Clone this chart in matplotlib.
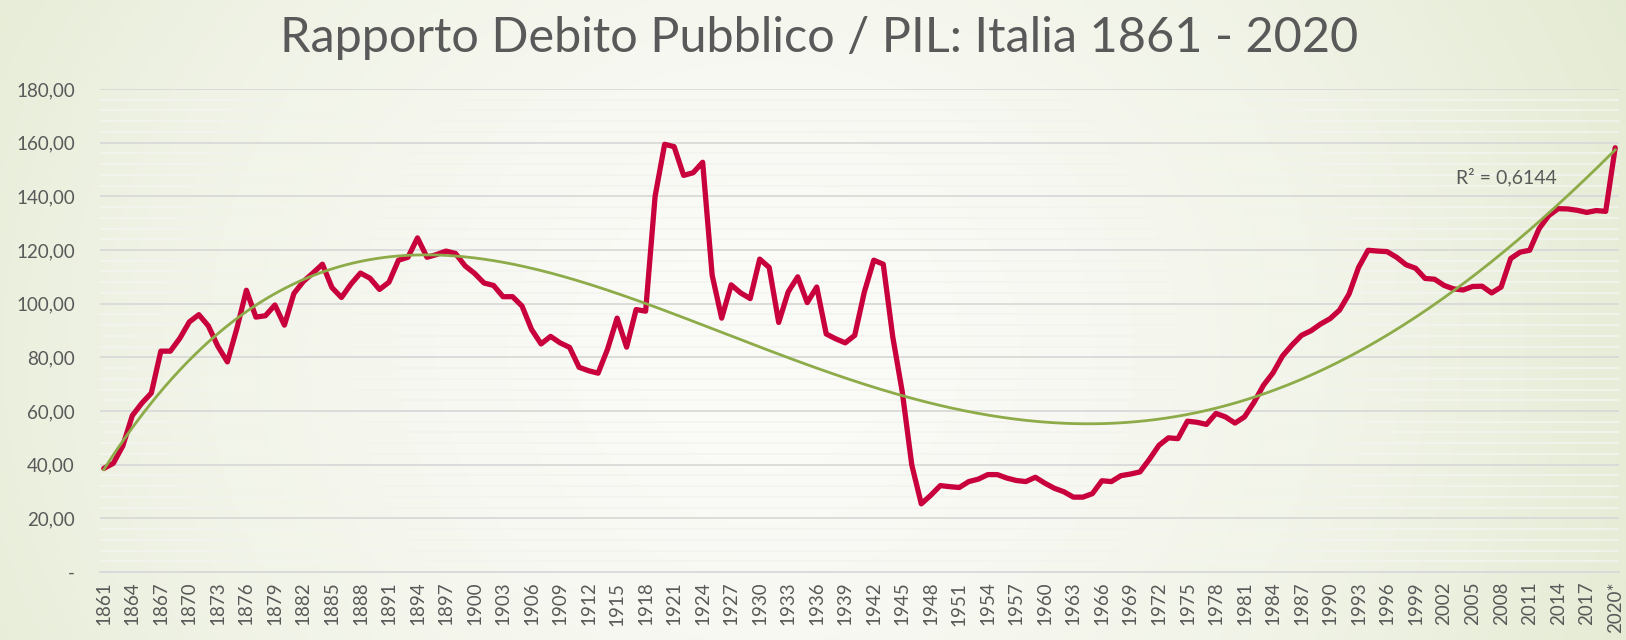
import numpy as np
import matplotlib
matplotlib.use("Agg")
import matplotlib.pyplot as plt
import matplotlib.colors as mcolors
from matplotlib.ticker import MultipleLocator, FuncFormatter

TITLE = "Rapporto Debito Pubblico / PIL: Italia 1861 - 2020"
R2_LABEL = "R² = 0,6144"

years = list(range(1861, 2021))
year_labels = [str(y) for y in years]
year_labels[-1] = "2020*"

# debt / GDP ratio, one value per year
debt_1861_1900 = [38.6, 40.5, 47.0, 58.3, 62.9, 66.7, 82.3, 82.3, 87.1, 93.2,
                  95.9, 91.7, 84.1, 78.3, 90.8, 105.0, 95.0, 95.5, 99.5, 92.0,
                  103.8, 108.3, 111.4, 114.7, 106.0, 102.3, 107.3, 111.4, 109.5, 105.3,
                  108.0, 116.2, 117.3, 124.5, 117.3, 118.3, 119.6, 118.7, 114.1, 111.3]
debt_1901_1940 = [107.7, 106.8, 102.6, 102.6, 99.1, 90.4, 85.0, 87.8, 85.4, 83.7,
                  76.3, 75.0, 74.1, 83.1, 94.6, 83.8, 97.8, 97.2, 140.1, 159.4,
                  158.5, 147.8, 148.8, 152.7, 110.6, 94.6, 107.0, 104.0, 101.9, 116.6,
                  113.5, 93.0, 104.4, 110.0, 100.4, 106.2, 88.7, 86.9, 85.4, 88.2]
debt_1941_1980 = [104.2, 116.2, 114.7, 87.6, 67.1, 39.9, 25.4, 28.6, 32.2, 31.8,
                  31.5, 33.7, 34.6, 36.3, 36.3, 35.0, 34.1, 33.7, 35.3, 33.1,
                  31.2, 29.9, 27.9, 27.9, 29.2, 34.0, 33.7, 35.9, 36.5, 37.3,
                  42.0, 47.2, 50.0, 49.7, 56.2, 55.8, 55.0, 59.1, 57.8, 55.5]
debt_1981_2020 = [57.8, 63.2, 69.6, 74.2, 80.5, 84.6, 88.2, 89.9, 92.4, 94.4,
                  97.6, 103.6, 113.5, 119.9, 119.6, 119.4, 117.3, 114.5, 113.2, 109.4,
                  109.1, 106.8, 105.5, 105.1, 106.4, 106.5, 104.0, 106.2, 116.8, 119.2,
                  119.9, 128.0, 132.8, 135.4, 135.3, 134.8, 134.0, 134.7, 134.4, 158.1]
debt = debt_1861_1900 + debt_1901_1940 + debt_1941_1980 + debt_1981_2020

RED = "#c8003c"
GREEN = "#8dab48"
TEXT = "#595959"
FONT = ["Lato", "DejaVu Sans"]

fig = plt.figure(figsize=(16.26, 6.4), dpi=100)

# soft background: white in the middle, pale green towards the edges
bg = fig.add_axes([0, 0, 1, 1], zorder=0)
bg.set_axis_off()
gx, gy = np.meshgrid(np.linspace(0, 1, 400), np.linspace(0, 1, 160))
r = np.sqrt(((gx - 0.47) / 0.62) ** 2 + ((gy - 0.55) / 1.4) ** 2)
r = np.clip(r, 0, 1) ** 1.6
c_in = np.array(mcolors.to_rgb("#fbfbf8"))
c_out = np.array(mcolors.to_rgb("#e2e9cf"))
img = c_in[None, None, :] * (1 - r[..., None]) + c_out[None, None, :] * r[..., None]
bg.imshow(img, aspect="auto", extent=[0, 1, 0, 1], origin="upper")
bg.set_xlim(0, 1)
bg.set_ylim(0, 1)

ax = fig.add_axes([100 / 1626, 1 - 572 / 640, 1519 / 1626, (572 - 89) / 640], zorder=1)
ax.patch.set_alpha(0)

x = np.arange(len(debt))
ax.plot(x, debt, color=RED, lw=3.8, solid_joinstyle="round", solid_capstyle="round", zorder=3)

# 4th order polynomial trend, as the spreadsheet does
coef = np.polyfit(x + 1, debt, 4)
xs = np.linspace(0, len(debt) - 1, 600)
ax.plot(xs, np.polyval(coef, xs + 1), color=GREEN, lw=2.0, zorder=4)

ax.set_xlim(-0.4, len(debt) - 0.6)
ax.set_ylim(0, 180)

ax.yaxis.set_major_locator(MultipleLocator(20))
ax.yaxis.set_minor_locator(MultipleLocator(4))
ax.yaxis.set_major_formatter(FuncFormatter(
    lambda v, p: "-" if v == 0 else f"{v:.2f}".replace(".", ",")))
ax.grid(which="minor", axis="y", color="#f3f4ef", lw=1.2, zorder=1)
ax.grid(which="major", axis="y", color="#d9d9d9", lw=1.3, zorder=2)
ax.set_axisbelow(True)

ax.set_xticks(x[::3])
ax.set_xticklabels(year_labels[::3], rotation=90, va="top", ha="center")

for s in ["top", "right", "left"]:
    ax.spines[s].set_visible(False)
ax.spines["bottom"].set_color("#d9d9d9")
ax.spines["bottom"].set_linewidth(1.3)
ax.tick_params(which="both", length=0)
ax.tick_params(axis="y", pad=18, labelsize=13.5, labelcolor=TEXT)
ax.tick_params(axis="x", pad=7, labelsize=13.5, labelcolor=TEXT)
for lab in ax.get_xticklabels() + ax.get_yticklabels():
    lab.set_family(FONT)

ax.text(1506 / 1626, 1 - 177 / 640, R2_LABEL, transform=fig.transFigure,
        ha="center", va="center", fontsize=14, color=TEXT, family=FONT)

fig.text(0.504, 0.94, TITLE, ha="center", va="center", fontsize=35,
         color=TEXT, family=FONT)

fig.savefig("out.png", dpi=100)
